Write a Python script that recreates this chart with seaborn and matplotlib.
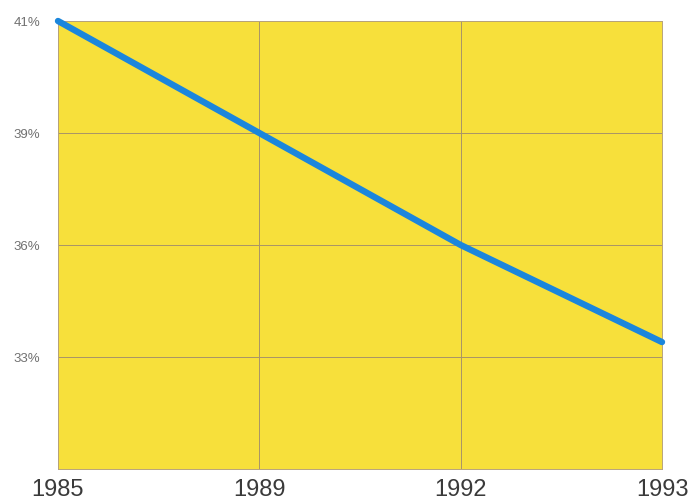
import numpy as np
import matplotlib
matplotlib.use("Agg")
import matplotlib.pyplot as plt
import seaborn as sns
import pandas as pd

years = [1985, 1989, 1992, 1993]
share = [41.0, 39.0, 36.0, 33.4]
ytick_vals = [33, 36, 39, 41]
ytick_labels = ["33%", "36%", "39%", "41%"]

# equally spaced label positions (axis is a label-scale, not linear)
x_knots = [1985, 1989, 1992, 1993]
y_knots = [30, 33, 36, 39, 41]

def xf(v):
    return np.interp(v, x_knots, np.arange(len(x_knots)))
def xi(v):
    return np.interp(v, np.arange(len(x_knots)), x_knots)
def yf(v):
    return np.interp(v, y_knots, np.arange(len(y_knots)))
def yi(v):
    return np.interp(v, np.arange(len(y_knots)), y_knots)

sns.set_theme(style="white")
plt.rcParams["font.family"] = ["Liberation Sans", "DejaVu Sans"]

fig = plt.figure(figsize=(6.97, 5.03), dpi=100)
ax = fig.add_axes([58/697, 1-469/503, (662-58)/697, (469-21)/503])
ax.set_facecolor("#F7E03B")

df = pd.DataFrame({"year": years, "share": share})
ax.set_xscale("function", functions=(xf, xi))
ax.set_yscale("function", functions=(yf, yi))
sns.lineplot(data=df, x="year", y="share", ax=ax, color="#1B86DC",
             linewidth=4.6, clip_on=False, zorder=5)

ax.set_xlim(1985, 1993)
ax.set_ylim(30, 41)
ax.set_xticks(years)
ax.set_xticklabels([str(y) for y in years], fontsize=17, color="#3a3a3a")
ax.set_yticks(ytick_vals)
ax.set_yticklabels(ytick_labels, fontsize=9.5, color="#707070")
ax.minorticks_off()
ax.tick_params(axis="x", length=0, pad=7)
ax.tick_params(axis="y", length=0, pad=13)
ax.grid(True, color="#A89468", linewidth=0.7)
for s in ax.spines.values():
    s.set_color("#B8A47A")
    s.set_linewidth(0.7)
ax.set_xlabel("")
ax.set_ylabel("")

fig.savefig("out.png", dpi=100, facecolor="white")
